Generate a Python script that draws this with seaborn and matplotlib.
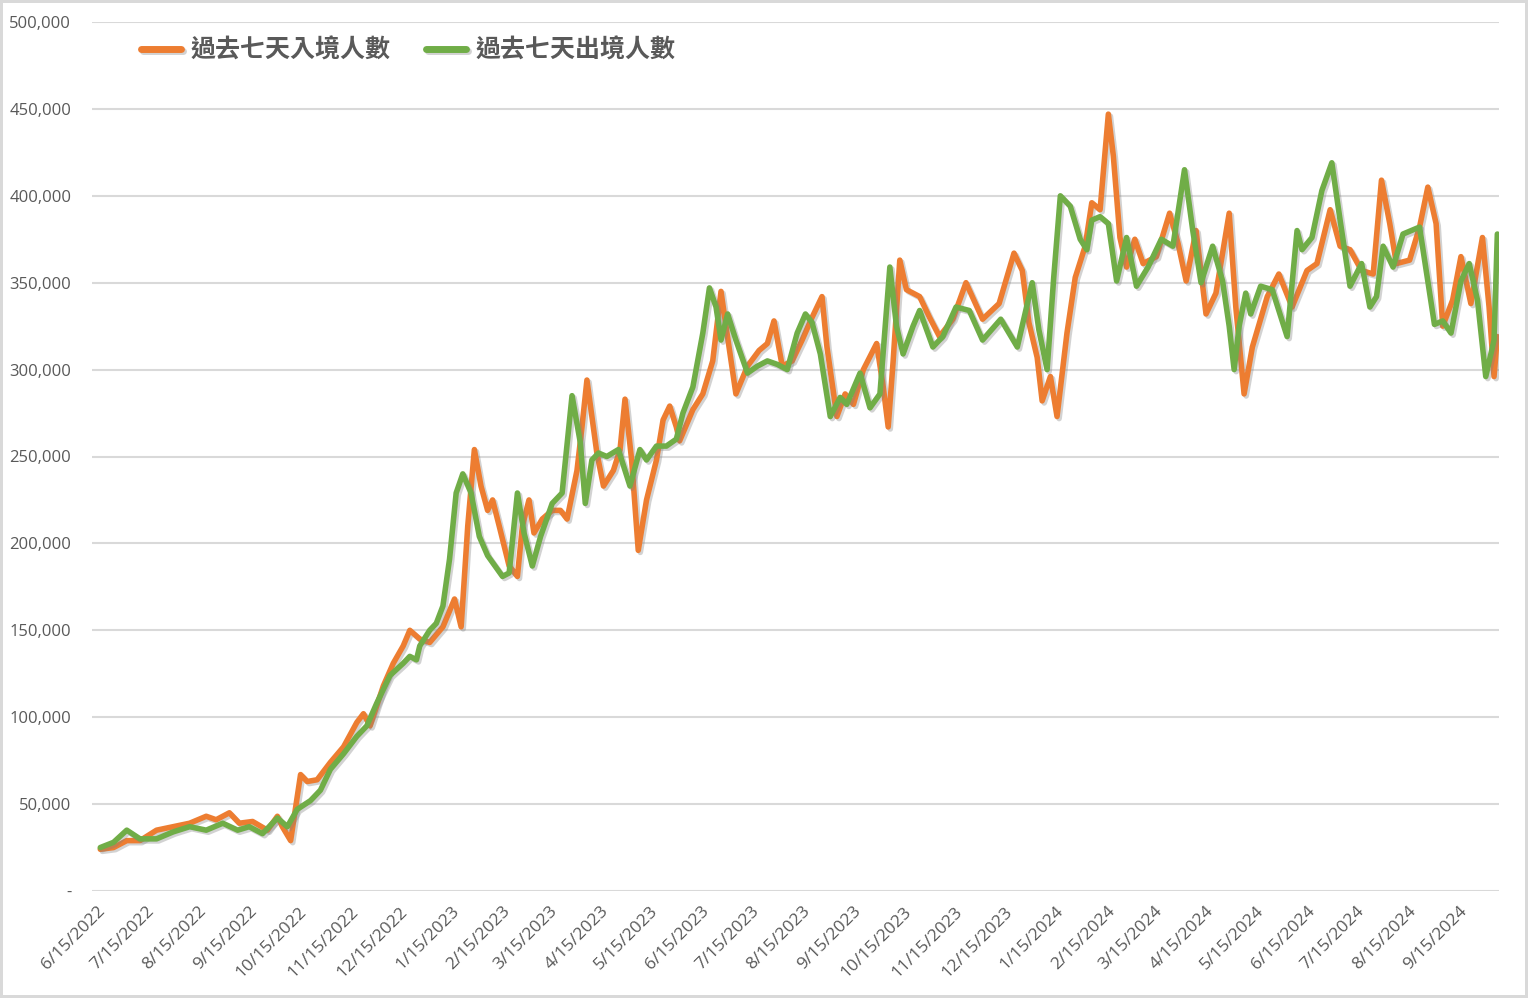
import numpy as np
import pandas as pd
import matplotlib
matplotlib.use("Agg")
import matplotlib.pyplot as plt
import matplotlib.ticker as mticker
import matplotlib.patheffects as pe
import matplotlib.transforms as mtransforms
import seaborn as sns

START = pd.Timestamp("2022-06-15")

# ---- data (day offsets from 2022-06-15, values in thousands of persons) ----
inbound_days = [2, 10, 18, 26, 36, 46, 56, 66, 72, 80, 86, 94, 103, 109, 112, 117, 123, 127, 133, 141,
                149, 157, 161, 165, 173, 179, 185, 189, 195, 201, 209, 216, 220, 224, 228, 232, 236, 239,
                243, 249, 254, 257, 261, 264, 269, 275, 280, 284, 290, 293, 296, 302, 306, 312, 316, 319,
                323, 327, 332, 338, 342, 346, 350, 352, 360, 366, 372, 377, 380, 386, 393, 400, 405, 409,
                414, 420, 426, 432, 438, 441, 447, 452, 457, 463, 471, 475, 478, 481, 485, 489, 497, 503,
                509, 517, 525, 535, 545, 554, 559, 563, 568, 571, 576, 580, 586, 591, 597, 601, 606, 611,
                614, 618, 622, 627, 632, 640, 648, 653, 658, 664, 670, 676, 684, 688, 693, 698, 707, 714,
                722, 731, 737, 745, 751, 757, 764, 771, 776, 781, 785, 793, 799, 804, 809, 813, 819, 824,
                830, 837, 841, 844, 846]
inbound_vals = [24, 25, 29, 29, 35, 37, 39, 43, 41, 45, 39, 40, 35, 43, 37, 29, 67, 63, 64, 74,
                83, 97, 102, 95, 118, 131, 141, 150, 145, 143, 152, 168, 152, 210, 254, 233, 219, 225,
                210, 187, 181, 210, 225, 206, 214, 219, 219, 214, 242, 267, 294, 252, 233, 242, 254, 283,
                248, 196, 225, 248, 271, 279, 267, 259, 277, 286, 305, 345, 325, 286, 302, 311, 315, 328,
                302, 305, 317, 330, 342, 313, 273, 286, 280, 300, 315, 290, 267, 305, 363, 346, 342, 330,
                319, 329, 350, 329, 338, 367, 357, 327, 307, 282, 296, 273, 321, 353, 371, 396, 392, 447,
                423, 376, 359, 375, 361, 365, 390, 373, 351, 380, 332, 344, 390, 336, 286, 313, 342, 355,
                336, 357, 361, 392, 371, 369, 357, 355, 409, 384, 361, 363, 382, 405, 384, 325, 340, 365,
                338, 376, 336, 296, 319]

outbound_days = [2, 10, 18, 26, 36, 46, 56, 66, 76, 85, 92, 100, 109, 115, 121, 129, 135, 141, 149, 157,
                 163, 169, 177, 185, 189, 193, 195, 201, 205, 209, 213, 217, 221, 226, 231, 236, 239, 245,
                 249, 254, 258, 263, 268, 275, 281, 287, 292, 295, 299, 303, 308, 315, 322, 328, 332, 338,
                 344, 350, 354, 360, 366, 370, 374, 377, 381, 386, 393, 399, 405, 411, 417, 423, 428, 432,
                 437, 443, 449, 453, 461, 467, 473, 479, 483, 487, 493, 497, 505, 511, 519, 527, 535, 546,
                 556, 565, 569, 574, 578, 582, 588, 594, 598, 601, 606, 611, 616, 622, 628, 635, 643, 650,
                 657, 662, 667, 674, 680, 684, 687, 690, 694, 697, 703, 710, 719, 725, 728, 734, 740, 746,
                 751, 757, 764, 769, 773, 777, 783, 789, 799, 808, 813, 818, 824, 829, 834, 839, 844, 846]
outbound_vals = [25, 28, 35, 30, 30, 34, 37, 35, 39, 35, 37, 33, 42, 37, 47, 52, 58, 70, 79, 89,
                 95, 108, 124, 131, 135, 133, 141, 150, 154, 164, 191, 229, 240, 229, 204, 193, 189, 181,
                 183, 229, 206, 187, 204, 223, 229, 285, 258, 223, 248, 252, 250, 254, 233, 254, 248, 256,
                 256, 260, 275, 290, 321, 347, 336, 317, 332, 317, 298, 302, 305, 303, 300, 321, 332, 327,
                 309, 273, 284, 280, 298, 278, 286, 359, 325, 309, 325, 334, 313, 319, 336, 334, 317, 329,
                 313, 350, 323, 300, 353, 400, 394, 375, 369, 386, 388, 384, 351, 376, 348, 359, 375, 371,
                 415, 380, 350, 371, 351, 325, 300, 325, 344, 332, 348, 346, 319, 380, 369, 376, 403, 419,
                 386, 348, 361, 336, 342, 371, 359, 378, 382, 326, 328, 321, 351, 361, 340, 296, 317, 378]

series_names = ["過去七天入境人數", "過去七天出境人數"]
series_colors = ["#ED7D31", "#70AD47"]

# ---- build long-form table ----
df = pd.concat([
    pd.DataFrame({"date": START + pd.to_timedelta(inbound_days, unit="D"),
                  "value": np.array(inbound_vals) * 1000, "series": series_names[0]}),
    pd.DataFrame({"date": START + pd.to_timedelta(outbound_days, unit="D"),
                  "value": np.array(outbound_vals) * 1000, "series": series_names[1]}),
], ignore_index=True)

sns.set_theme(style="white")
plt.rcParams["font.family"] = ["Open Sans", "Noto Sans CJK TC", "DejaVu Sans"]

fig = plt.figure(figsize=(15.28, 9.98), dpi=100)
fig.patch.set_facecolor("white")
fig.patch.set_edgecolor("#D9D9D9")
fig.patch.set_linewidth(3)
ax = fig.add_axes([92 / 1528, 1 - 891 / 998, (1499 - 92) / 1528, (891 - 22) / 998])

sns.lineplot(data=df, x="date", y="value", hue="series", hue_order=series_names,
             palette=dict(zip(series_names, series_colors)), estimator=None, sort=True,
             linewidth=4.0, ax=ax)
for line in ax.get_lines():
    line.set_path_effects([pe.SimpleLineShadow(offset=(1.5, -1.5), shadow_color="#7f7f7f", alpha=0.35),
                           pe.Normal()])
    line.set_solid_joinstyle("round")
    line.set_solid_capstyle("round")

ax.set_ylim(0, 500000)
ax.set_xlim(START - pd.Timedelta(days=3), START + pd.Timedelta(days=847))
ax.yaxis.set_major_locator(mticker.MultipleLocator(50000))
ax.yaxis.set_major_formatter(mticker.FuncFormatter(lambda v, p: "-" if v == 0 else f"{int(v):,}"))

tick_dates = pd.date_range("2022-06-01", "2024-09-01", freq="MS") + pd.Timedelta(days=14)
ax.set_xticks(tick_dates)
ax.set_xticklabels([f"{d.month}/{d.day}/{d.year}" for d in tick_dates], rotation=45,
                   ha="right", rotation_mode="anchor")
shift = mtransforms.ScaledTranslation(-9 / 100, 0, fig.dpi_scale_trans)
for lab in ax.get_xticklabels():
    lab.set_transform(lab.get_transform() + shift)

ax.grid(axis="y", color="#D9D9D9", linewidth=1.5)
ax.grid(axis="x", visible=False)
for s in ax.spines.values():
    s.set_visible(False)
ax.tick_params(axis="both", length=0, colors="#595959", labelsize=12.5)
ax.tick_params(axis="y", pad=15, labelsize=12)
ax.tick_params(axis="x", pad=9)
ax.set_xlabel("")
ax.set_ylabel("")

handles, labels = ax.get_legend_handles_labels()
for h in handles:
    h.set_linewidth(5)
    h.set_solid_capstyle("round")
leg = ax.legend(handles, labels, loc="upper left", bbox_to_anchor=(118 / 1528, 1 - 16 / 998),
                bbox_transform=fig.transFigure, ncol=2, frameon=False, handlelength=1.6,
                handletextpad=0.4, columnspacing=1.4,
                prop={"family": ["Noto Sans CJK TC", "DejaVu Sans"], "weight": "bold", "size": 18})
for t in leg.get_texts():
    t.set_color("#595959")

fig.savefig("out.png", dpi=100, facecolor=fig.get_facecolor(), edgecolor=fig.get_edgecolor())
